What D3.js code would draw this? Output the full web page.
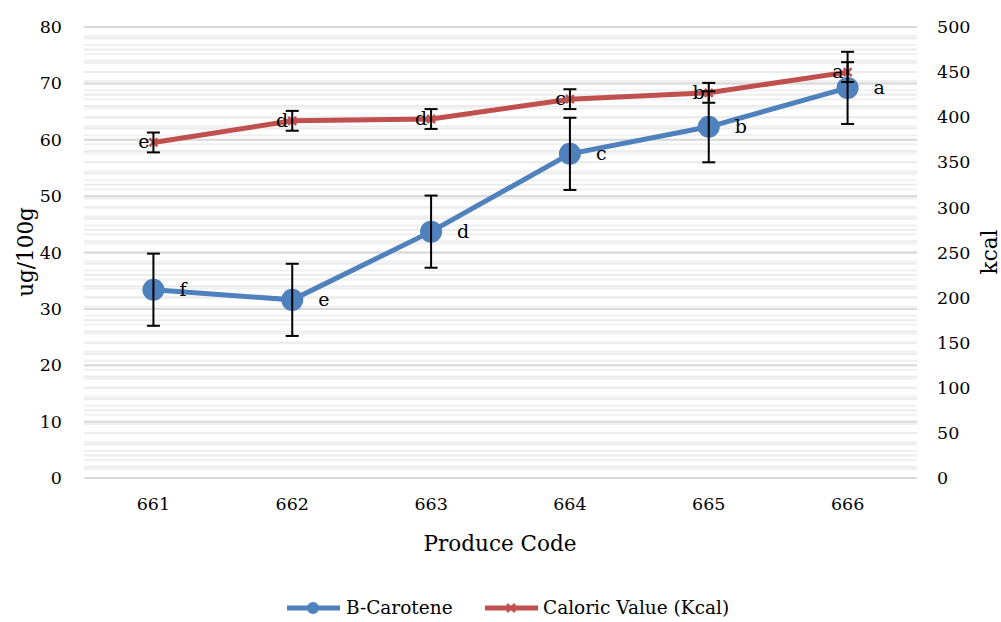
<!DOCTYPE html>
<html><head><meta charset="utf-8">
<script src="https://cdn.jsdelivr.net/npm/d3@7"></script>
<style>body{margin:0;background:#fff}svg{display:block}text{font-family:"DejaVu Serif",serif;fill:#000}</style>
</head><body><svg id="c" width="1001" height="622"></svg>
<script>
const categories = ["661","662","663","664","665","666"];
const betaCarotene = [33.4, 31.6, 43.7, 57.5, 62.3, 69.2];
const betaCaroteneErr = [6.4, 6.4, 6.4, 6.4, 6.3, 6.4];
const betaLetters = ["f","e","d","c","b","a"];
const caloric = [372, 396, 398, 420, 427, 450];
const caloricErr = [11, 11, 11, 11, 11, 11];
const caloricLetters = ["e","d","d","c","b","a"];
const leftTicks = [0,10,20,30,40,50,60,70,80];
const rightTicks = [0,50,100,150,200,250,300,350,400,450,500];

const svg = d3.select("#c");
const L = 84, R = 917, T = 27, B = 478;
const x = d3.scaleBand().domain(categories).range([L, R]);
const yL = d3.scaleLinear().domain([0, 80]).range([B, T]);
const yR = d3.scaleLinear().domain([0, 500]).range([B, T]);
const cx = d => x(d) + x.bandwidth() / 2;
const blue = "#4f81bd", red = "#c0504d";

// minor gridlines
const g = svg.append("g");
g.selectAll(".mr").data(d3.range(0, 501, 10)).enter().append("line")
  .attr("x1", L).attr("x2", R).attr("y1", d => yR(d)).attr("y2", d => yR(d))
  .attr("stroke", "#f0f0f0").attr("stroke-width", 2);
g.selectAll(".ml").data(d3.range(0, 81, 2)).enter().append("line")
  .attr("x1", L).attr("x2", R).attr("y1", d => yL(d)).attr("y2", d => yL(d))
  .attr("stroke", "#ececec").attr("stroke-width", 2);
g.selectAll(".mj").data(leftTicks).enter().append("line")
  .attr("x1", L).attr("x2", R).attr("y1", d => yL(d)).attr("y2", d => yL(d))
  .attr("stroke", "#d9d9d9").attr("stroke-width", 2);

// axes
const axL = d3.axisLeft(yL).tickValues(leftTicks).tickSize(0).tickPadding(22);
const axR = d3.axisRight(yR).tickValues(rightTicks).tickSize(0).tickPadding(20);
const axB = d3.axisBottom(x).tickSize(0).tickPadding(20);
const gl = svg.append("g").attr("transform", `translate(${L},0)`).call(axL);
const gr = svg.append("g").attr("transform", `translate(${R},0)`).call(axR);
const gb = svg.append("g").attr("transform", `translate(0,${B})`).call(axB);
[gl, gr, gb].forEach(a => { a.select(".domain").remove(); a.selectAll("text").style("font-size", "17.5px").style("font-family", '"DejaVu Serif",serif').attr("fill", "#000"); });

svg.append("text").attr("x", 500).attr("y", 551).attr("text-anchor", "middle").style("font-size", "21.5px").text("Produce Code");
svg.append("text").attr("transform", "translate(33,252) rotate(-90)").attr("text-anchor", "middle").style("font-size", "21.5px").text("ug/100g");
svg.append("text").attr("transform", "translate(997,252) rotate(-90)").attr("text-anchor", "middle").style("font-size", "21.5px").text("kcal");

// lines
svg.append("path").datum(caloric).attr("fill", "none").attr("stroke", red).attr("stroke-width", 5)
  .attr("d", d3.line().x((d, i) => cx(categories[i])).y(d => yR(d)));
svg.append("path").datum(betaCarotene).attr("fill", "none").attr("stroke", blue).attr("stroke-width", 5)
  .attr("d", d3.line().x((d, i) => cx(categories[i])).y(d => yL(d)));

// markers
categories.forEach((c, i) => {
  const X = cx(c), Y = yR(caloric[i]);
  svg.append("path").attr("d", `M${X-4},${Y-4}L${X+4},${Y+4}M${X-4},${Y+4}L${X+4},${Y-4}`).attr("stroke", red).attr("stroke-width", 2.5);
});
svg.selectAll(".dot").data(betaCarotene).enter().append("circle")
  .attr("cx", (d, i) => cx(categories[i])).attr("cy", d => yL(d)).attr("r", 11).attr("fill", blue);

// error bars
function errBars(vals, errs, sc) {
  vals.forEach((v, i) => {
    const X = cx(categories[i]), y1 = sc(v - errs[i]), y2 = sc(v + errs[i]);
    const eg = svg.append("g").attr("stroke", "#000").attr("stroke-width", 2);
    eg.append("line").attr("x1", X).attr("x2", X).attr("y1", y1).attr("y2", y2);
    eg.append("line").attr("x1", X - 6.5).attr("x2", X + 6.5).attr("y1", y1).attr("y2", y1);
    eg.append("line").attr("x1", X - 6.5).attr("x2", X + 6.5).attr("y1", y2).attr("y2", y2);
  });
}
errBars(caloric, caloricErr, yR);
errBars(betaCarotene, betaCaroteneErr, yL);

// letters
svg.selectAll(".bl").data(betaLetters).enter().append("text")
  .attr("x", (d, i) => cx(categories[i]) + 26).attr("y", (d, i) => yL(betaCarotene[i]) + 6)
  .style("font-size", "19px").text(d => d);
svg.selectAll(".cl").data(caloricLetters).enter().append("text")
  .attr("x", (d, i) => cx(categories[i]) - 4).attr("y", (d, i) => yR(caloric[i]) + 6)
  .attr("text-anchor", "end").style("font-size", "19px").text(d => d);

// legend
const lg = svg.append("g");
lg.append("line").attr("x1", 287).attr("x2", 340).attr("y1", 608).attr("y2", 608).attr("stroke", blue).attr("stroke-width", 5);
lg.append("circle").attr("cx", 313).attr("cy", 608).attr("r", 6).attr("fill", blue);
lg.append("text").attr("x", 346).attr("y", 614).style("font-size", "18.5px").text("B-Carotene");
lg.append("line").attr("x1", 485).attr("x2", 538).attr("y1", 608).attr("y2", 608).attr("stroke", red).attr("stroke-width", 5);
lg.append("path").attr("d", "M507,604L515,612M507,612L515,604").attr("stroke", red).attr("stroke-width", 2.5);
lg.append("text").attr("x", 543).attr("y", 614).style("font-size", "18.5px").text("Caloric Value (Kcal)");
</script></body></html>
